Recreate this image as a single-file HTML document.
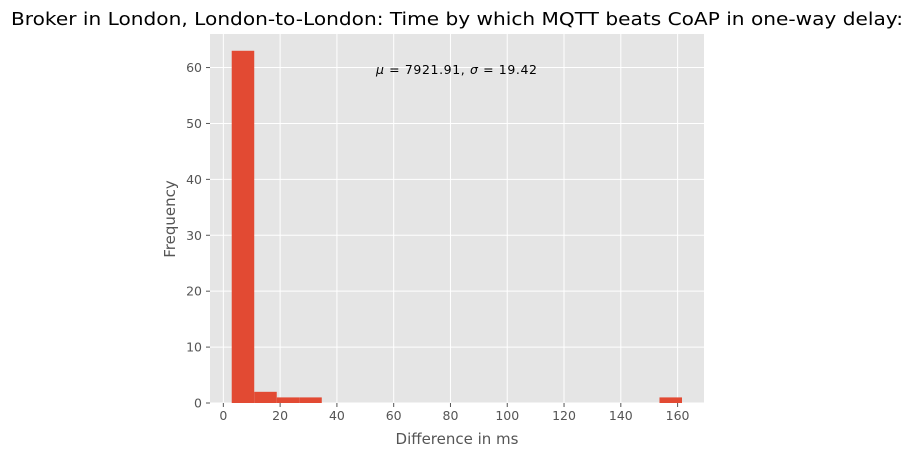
<!DOCTYPE html>
<html><head><meta charset="utf-8"><style>
body{margin:0;background:#fff;}
svg{font-family:"DejaVu Sans","Liberation Sans",sans-serif;}
</style></head><body>
<svg id="chart" width="914" height="457" xmlns="http://www.w3.org/2000/svg">
<text x="457" y="25" text-anchor="middle" font-size="17.5" fill="#000" textLength="892" lengthAdjust="spacingAndGlyphs">Broker in London, London-to-London: Time by which MQTT beats CoAP in one-way delay:</text>
<rect x="210" y="34" width="494" height="369" fill="#e5e5e5"/>
<g id="grid"></g><g id="bars"></g><g id="ticks"></g>
<text x="376" y="74" font-size="12.5" fill="#000" textLength="161" lengthAdjust="spacing"><tspan font-style="italic">μ</tspan> = 7921.91,  <tspan font-style="italic">σ</tspan> = 19.42</text>
<text x="457" y="444" text-anchor="middle" font-size="15" fill="#555">Difference in ms</text>
<text transform="translate(175,219) rotate(-90)" text-anchor="middle" font-size="15" fill="#555">Frequency</text>
</svg>
<script>
const binStart = 2.95;
const binWidth = 7.93;
const counts = [63,2,1,1,0,0,0,0,0,0,0,0,0,0,0,0,0,0,0,1];
const xTicks = [0,20,40,60,80,100,120,140,160];
const yTicks = [0,10,20,30,40,50,60];
const X0=210,X1=704,Y0=403,Y1=34,xmin=-4.7,xmax=169.3,ymin=0,ymax=66;
const sx=v=>X0+(v-xmin)/(xmax-xmin)*(X1-X0);
const sy=v=>Y0-(v-ymin)/(ymax-ymin)*(Y0-Y1);
const NS="http://www.w3.org/2000/svg";
const mk=(t,a,p)=>{const e=document.createElementNS(NS,t);for(const k in a)e.setAttribute(k,a[k]);p.appendChild(e);return e;};
const grid=document.getElementById('grid'),bars=document.getElementById('bars'),ticks=document.getElementById('ticks');
xTicks.forEach(v=>{
 const l=mk('line',{x1:sx(v),x2:sx(v),y1:Y1,y2:Y0,stroke:'#fff','stroke-width':1},grid);
 
 
 mk('line',{x1:sx(v),x2:sx(v),y1:Y0,y2:Y0+4,stroke:'#555'},ticks);
 const t=mk('text',{x:sx(v),y:Y0+17,'text-anchor':'middle','font-size':12.5,fill:'#555'},ticks);
 t.textContent=v;
 
 
});
yTicks.forEach(v=>{
 const l=mk('line',{x1:X0,x2:X1,y1:sy(v),y2:sy(v),stroke:'#fff','stroke-width':1},grid);
 
 
 mk('line',{x1:X0-4,x2:X0,y1:sy(v),y2:sy(v),stroke:'#555'},ticks);
 const t=mk('text',{x:X0-8,y:sy(v)+4.5,'text-anchor':'end','font-size':12.5,fill:'#555'},ticks);
 t.textContent=v;
 
 
});
counts.forEach((c,i)=>{
 if(!c)return;
 const a=binStart+i*binWidth,b=a+binWidth;
 const r=mk('rect',{x:sx(a),y:sy(c),width:sx(b)-sx(a),height:sy(0)-sy(c),fill:'#e24a33'},bars);
 
 
});
</script>
</body></html>
